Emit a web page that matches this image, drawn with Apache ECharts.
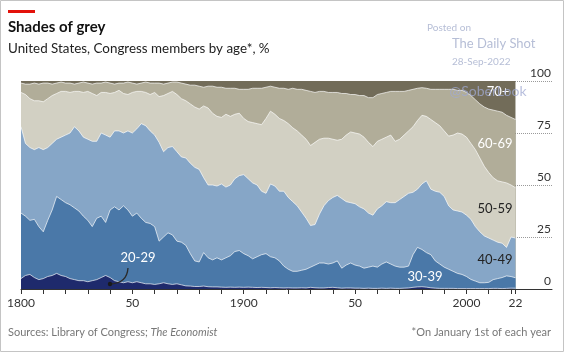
<!DOCTYPE html>
<html>
<head>
<meta charset="utf-8">
<script src="https://cdn.jsdelivr.net/npm/echarts@6/dist/echarts.min.js"></script>
<style>
  html, body { margin: 0; padding: 0; background: #fff; }
  #chart { width: 564px; height: 352px; }
</style>
</head>
<body>
<div id="chart"></div>
<script>
// years, every second year (one value per Congress)
var years = [
  1800,1802,1804,1806,1808, 1810,1812,1814,1816,1818, 1820,1822,1824,1826,1828,
  1830,1832,1834,1836,1838, 1840,1842,1844,1846,1848, 1850,1852,1854,1856,1858,
  1860,1862,1864,1866,1868, 1870,1872,1874,1876,1878, 1880,1882,1884,1886,1888,
  1890,1892,1894,1896,1898, 1900,1902,1904,1906,1908, 1910,1912,1914,1916,1918,
  1920,1922,1924,1926,1928, 1930,1932,1934,1936,1938, 1940,1942,1944,1946,1948,
  1950,1952,1954,1956,1958, 1960,1962,1964,1966,1968, 1970,1972,1974,1976,1978,
  1980,1982,1984,1986,1988, 1990,1992,1994,1996,1998, 2000,2002,2004,2006,2008,
  2010,2012,2014,2016,2018, 2020,2022
];

// cumulative share of members (%) up to the top of each age group
var upTo29 = [
  5,6.5,7,5.5,4.5, 5,6,6.5,7.5,6.5, 6,5,4.5,4,4,
  3.5,4,4.5,5.5,6.5, 5.5,4,3.5,3,3.5, 3,3.5,3,2.5,2.5,
  2.2,2.5,3,2.5,2.2, 2.5,2,1.5,1.4,1.2, 1.2,1.4,1.1,1,1,
  0.9,0.8,0.9,0.8,0.9, 0.8,0.9,0.8,0.7,0.8, 0.7,0.6,0.7,0.6,0.5,
  0.6,0.5,0.5,0.6,0.5, 0.8,0.6,0.5,0.5,0.7, 0.8,0.6,0.4,0.5,0.5,
  0.4,0.4,0.3,0.4,0.3, 0.3,0.4,0.3,0.4,0.3, 0.3,0.4,0.5,0.8,1.0,
  1.1,0.9,0.6,0.4,0.3, 0.3,0.3,0.3,0.2,0.2, 0.2,0.2,0.2,0.2,0.2,
  0.2,0.3,0.3,0.2,0.3, 0.4,0.4
];
var upTo39 = [
  36.5,35,33,33.5,30, 27.5,33,38,44.5,43, 41.5,40.5,39,37.5,35,
  33,30,34,35,32, 38,39.5,38,40,38, 35,36.5,34,32,31.5,
  30,23,25,27,26, 23,22.5,21,17,13.5, 13,17.5,15,14,15,
  14,15,16,18,18.5, 17,16,14.5,15.5,16.5, 17,15.5,15,13.5,11,
  9.5,8.5,8.5,9,9.5, 10.5,11.5,12.5,12.5,12, 12.5,13.5,10,11.5,12.5,
  11.5,11,10,10.5,11, 10.5,12,13,12,11, 10.5,10.5,11,16.5,20,
  19,17.5,16.5,13.5,12, 10.5,9.5,8.5,7.5,7, 6,4.6,3.8,3,3,
  3.2,4.5,5,5.5,6.3, 6,5.4
];
var upTo49 = [
  78,70,68,67,68, 67,68,70,72,73, 74,75,78,76,73,
  72,71,71,75,74, 73,76,76,75,76, 75,77,79.5,78.5,76,
  74,70.5,66,68,68.5, 66,63.5,63,60.5,58.5, 57.5,53.5,50,50,49.5,
  50.5,49,50,53,54.5, 55,53,51,50,47, 46,50.5,49.5,47,47,
  44,42,40,37,34, 30.5,31,36,40,42.5, 44,45,43.5,42,41.5,
  41,39.5,38.5,36.5,35.5, 38.5,40,42,41.5,41.5, 43,44.5,46,46.5,48,
  50.5,52,48,47,46.5, 44.5,40,38,37.5,37, 35.5,33.5,30,27.5,25.5,
  24.5,23.5,22.5,22,20, 25,24.5
];
var upTo59 = [
  94.5,93.5,91.5,90.5,90.5, 90,91.5,93,94,95, 95,94.5,95,95,94.5,
  95,94,93,94.5,94.5, 94,94.5,95.5,94,93.5, 94.5,95,95,94.5,93.5,
  94.5,92.5,93,94,95, 93.5,91.5,90.5,89,87.5, 86.5,88,87,84.5,83,
  82.5,84,83,84,84.5, 82,80.5,80,79.5,79, 82,85.5,84,82,81,
  79.5,77.5,76,74,72, 69,70.5,72,72.5,72.5, 72,71.5,72,74,75.5,
  75,74.5,73,70.5,68.5, 71,72,73,74,71, 72,74,76,78,81,
  83.5,83,81.5,80,78.5, 76,73.5,74,75,74.5, 73,70,67,63,59,
  56,53.5,52,51.5,51, 50,48.7
];
var upTo69 = [
  99,98.5,98.5,99,98.5, 99,99,98.5,99,99.5, 99,99,98.5,99,99.5,
  99,98.5,99,99,99.5, 99,98.5,99,99,99.5, 99,98.5,99,99.5,99,
  99,99,98.5,99,99.5, 99.5,99,98.5,98,98, 97.5,97,97.5,97.5,97,
  97,96.5,96.5,96.5,96, 96,96,96.5,96.5,96.5, 97,97.5,97,96.5,96.5,
  96,96.5,96,96,95.5, 95,94.5,95,95,94.5, 94.5,94.5,94,94,93.5,
  93.5,93,93,92,92, 93.5,94,94.5,95,95, 95,95,95.5,96,96.5,
  96.8,96.5,96,96,96, 96,96,96,95.5,95.5, 94.5,93,91,89,87.5,
  86.5,86,85.5,85,83.5, 82.5,81.5
];

var groups = ['20-29', '30-39', '40-49', '50-59', '60-69', '70+'];
var colors = ['#1e2a6c', '#4a78a8', '#86a6c7', '#d2d0c3', '#b1ad99', '#726c59'];

var tickYears = [1800,1810,1820,1830,1840,1850,1860,1870,1880,1890,1900,1910,
  1920,1930,1940,1950,1960,1970,1980,1990,2000,2010,2020,2022];
var labelYears = [1800, 1850, 1900, 1950, 2000, 2022];
var labelText = ['1800', '50', '1900', '50', '2000', '22'];
var yTicks = [0, 25, 50, 75, 100];

var font = 'Lato, "Noto Sans", sans-serif';
var chart = echarts.init(document.getElementById('chart'));

// each band is drawn as the area under its cumulative line, oldest group first
// so that the younger (lower) bands are painted over it
var cum = [upTo29, upTo39, upTo49, upTo59, upTo69];
var series = [];
for (var g = groups.length - 1; g >= 0; g--) {
  var d = [];
  for (var i = 0; i < years.length; i++) {
    d.push([years[i], g < 5 ? cum[g][i] : 100]);
  }
  series.push({
    name: groups[g],
    type: 'line',
    data: d,
    symbol: 'none',
    lineStyle: { color: 'rgba(255,255,255,0.75)', width: g < 5 ? 0.9 : 0 },
    areaStyle: { color: colors[g], opacity: 1, origin: 'start' },
    itemStyle: { color: colors[g] },
    silent: true
  });
}

function txt(x, y, s, size, color, opt) {
  opt = opt || {};
  return {
    type: 'text', x: x, y: y, z: 100,
    style: {
      text: s, fontSize: size, fill: color, fontFamily: font,
      fontWeight: opt.bold ? 'bold' : 'normal',
      align: opt.align || 'left', verticalAlign: 'middle',
      rich: opt.rich
    }
  };
}

chart.setOption({
  animation: false,
  grid: { left: 21, right: 12, top: 81, bottom: 63 },
  xAxis: {
    type: 'value',
    min: 1800,
    max: 2038.4,
    axisLine: { show: true, lineStyle: { color: '#333', width: 1 } },
    axisTick: { show: true, customValues: tickYears, length: 5, lineStyle: { color: '#333' } },
    axisLabel: {
      customValues: labelYears,
      margin: 8,
      fontSize: 12,
      color: '#333',
      fontFamily: font,
      formatter: function (v) {
        var k = labelYears.indexOf(v);
        return k >= 0 ? labelText[k] : '';
      }
    },
    splitLine: { show: false }
  },
  yAxis: {
    type: 'value',
    position: 'right',
    min: yTicks[0],
    max: yTicks[yTicks.length - 1],
    interval: 25,
    axisLine: { show: false },
    axisTick: { show: false },
    axisLabel: {
      inside: true,
      margin: 1,
      fontSize: 12,
      color: '#333',
      fontFamily: font,
      verticalAlign: 'bottom',
      padding: [0, 0, 2, 0]
    },
    splitLine: { show: true, lineStyle: { color: '#9a9a9a', type: 'dotted', width: 1 } }
  },
  series: series,
  graphic: [
    { type: 'rect', shape: { x: 0.5, y: 0.5, width: 563, height: 351 },
      style: { fill: 'none', stroke: '#c4c4c4', lineWidth: 1 }, z: 100 },
    { type: 'rect', shape: { x: 8, y: 10, width: 27, height: 3 }, style: { fill: '#e3120b' }, z: 100 },
    txt(8, 27, 'Shades of grey', 15, '#111', { bold: true }),
    txt(8, 49, 'United States, Congress members by age*, %', 13.4, '#222'),
    txt(427, 28, 'Posted on', 10, '#b6bed6'),
    txt(452, 44, 'The Daily Shot', 13, '#b6bed6'),
    txt(452, 62, '28-Sep-2022', 10, '#b6bed6'),
    txt(8, 332, 'Sources: Library of Congress; {i|The Economist}', 11, '#777',
      { rich: { i: { fontStyle: 'italic', fontSize: 11, fill: '#777', fontFamily: font } } }),
    txt(551, 332, '*On January 1st of each year', 11, '#777', { align: 'right' }),
    txt(498, 92, '70+', 13, '#fff', { align: 'center' }),
    txt(488, 91, '@SoberLook', 14, 'rgba(160,170,210,0.75)', { align: 'center' }),
    txt(495, 144, '60-69', 13, '#fff', { align: 'center' }),
    txt(495, 209, '50-59', 13, '#222', { align: 'center' }),
    txt(495, 260, '40-49', 13, '#222', { align: 'center' }),
    txt(425, 277, '30-39', 13, '#fff', { align: 'center' }),
    txt(138, 258, '20-29', 13, '#fff', { align: 'center' }),
    { type: 'bezierCurve', z: 100,
      shape: { x1: 128, y1: 268, cpx1: 127, cpy1: 283, x2: 111, y2: 284 },
      style: { stroke: '#2a2a2a', lineWidth: 1.3, fill: 'none' } },
    { type: 'circle', z: 100, shape: { cx: 110, cy: 284, r: 2.2 }, style: { fill: '#1a1a1a' } }
  ]
});
</script>
</body>
</html>
